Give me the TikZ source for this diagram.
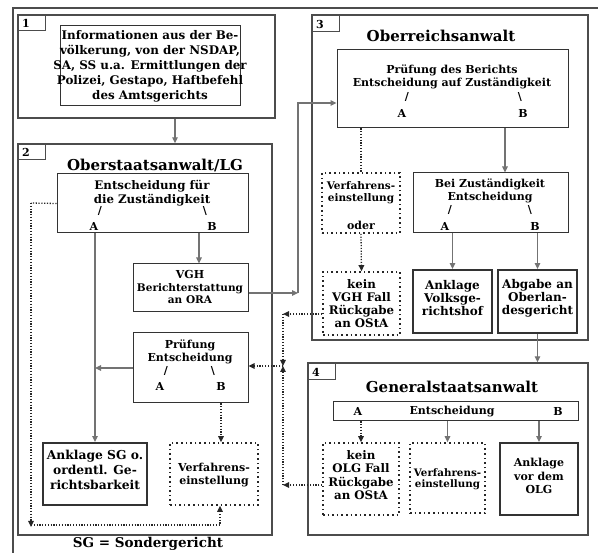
\documentclass[tikz,border=0pt]{standalone}
\usepackage{fontspec}
\setmainfont{DejaVu Serif}
\usetikzlibrary{arrows.meta,fit}
\begin{document}
\begin{tikzpicture}[x=1pt,y=-1pt,
 bx/.style={draw=black!80, line width=1pt, inner sep=0pt},
 thk/.style={draw=black!80, line width=1.9pt, inner sep=0pt},
 sec/.style={draw=black!70, line width=1.4pt, inner sep=0pt},
 nbx/.style={draw=black!70, line width=1pt, inner sep=0pt},
 dbx/.style={draw=black!85, line width=1.6pt, dash pattern=on 1.6pt off 3pt, inner sep=0pt},
 txt/.style={font=\bfseries\fontsize{11}{13.5}\selectfont, align=center, inner sep=0pt},
 sm/.style={font=\bfseries\fontsize{10.5}{12}\selectfont, align=center, inner sep=0pt},
 ttl/.style={font=\bfseries\fontsize{15}{17}\selectfont, inner sep=0pt},
 arr/.style={draw=black!55, line width=1.1pt, -{Triangle[length=6pt,width=5.5pt]}},
 dotl/.style={draw=black!85, line width=1.3pt, dash pattern=on 1.2pt off 1.6pt},
 dotarr/.style={dotl, -{Triangle[length=6pt,width=5.5pt]}},
]
\useasboundingbox (0,0) rectangle (598,553);
\fill[white] (0,0) rectangle (598,553);
% outer frame
\draw[black!70, line width=1.2pt] (13,553) -- (13,8) -- (598,8);

% ---------- section boxes ----------
\node[sec, fit={(18,15) (275,118)}] (sec1) {};
\node[nbx, fit={(18,15) (45,31)}] (n1) {};
\node[txt, anchor=west] (n1t) at (22,23) {1};
\node[sec, fit={(18,144) (272,535)}] (sec2) {};
\node[nbx, fit={(18,144) (45,160)}] (n2) {};
\node[txt, anchor=west] (n2t) at (22,152) {2};
\node[sec, fit={(312,15) (588,340)}] (sec3) {};
\node[nbx, fit={(312,15) (339,32)}] (n3) {};
\node[txt, anchor=west] (n3t) at (316,24) {3};
\node[sec, fit={(308,363) (588,535)}] (sec4) {};
\node[nbx, fit={(308,363) (335,380)}] (n4) {};
\node[txt, anchor=west] (n4t) at (312,372) {4};

% ---------- section 1 ----------
\node[bx, fit={(60,26) (240,106)}] (info) {};
\node[txt, font=\bfseries\fontsize{11.9}{15}\selectfont] (infot) at (150,66) {Informationen aus der Be-\\völkerung, von der NSDAP,\\SA, SS u.a. Ermittlungen der\\Polizei, Gestapo, Haftbefehl\\des Amtsgerichts};

% ---------- section 2 ----------
\node[ttl] (t2) at (155,166) {Oberstaatsanwalt/LG};
\node[bx, fit={(57,174) (248,233)}] (ent2) {};
\node[txt, font=\bfseries\fontsize{11.8}{14}\selectfont] (ent2t) at (152,193) {Entscheidung für\\die Zuständigkeit};
\node[txt] (ent2s1) at (100,211) {/};
\node[txt] (ent2s2) at (205,211) {\textbackslash};
\node[txt] (ent2a) at (94,226) {A};
\node[txt] (ent2b) at (212,226) {B};

\node[bx, fit={(133,264) (248,312)}] (vgh) {};
\node[txt] (vght) at (190,274) {VGH};
\node[sm] (vght2) at (190,294) {Berichterstattung\\an ORA};

\node[bx, fit={(133,333) (248,403)}] (pr2) {};
\node[txt] (pr2t) at (190,352) {Prüfung\\Entscheidung};
\node[txt] (pr2s1) at (166,371) {/};
\node[txt] (pr2s2) at (213,371) {\textbackslash};
\node[txt] (pr2a) at (160,386) {A};
\node[txt] (pr2b) at (221,386) {B};

\node[thk, fit={(43,443) (147,505)}] (anksg) {};
\node[txt, font=\bfseries\fontsize{12.3}{15}\selectfont] (anksgt) at (95,470) {Anklage SG o.\\ordentl. Ge-\\richtsbarkeit};
\node[dbx, fit={(170,443) (258,505)}] (verf2) {};
\node[txt] (verf2t) at (214,475) {Verfahrens-\\einstellung};

\node[txt, font=\bfseries\fontsize{13.5}{15}\selectfont] (fn) at (148,544) {SG = Sondergericht};

% ---------- section 3 ----------
\node[ttl] (t3) at (441,36) {Oberreichsanwalt};
\node[bx, fit={(337,50) (568,128)}] (pr3) {};
\node[txt] (pr3t) at (452,77) {Prüfung des Berichts\\Entscheidung auf Zuständigkeit};
\node[txt] (pr3s1) at (407,97) {/};
\node[txt] (pr3s2) at (520,97) {\textbackslash};
\node[txt] (pr3a) at (402,113) {A};
\node[txt] (pr3b) at (523,113) {B};

\node[dbx, fit={(322,173) (400,233)}] (verf3) {};
\node[sm] (verf3t) at (361,193) {Verfahrens-\\einstellung};
\node[txt] (verf3o) at (361,225) {oder};

\node[bx, fit={(413,173) (568,233)}] (bei) {};
\node[txt] (beit) at (490,191) {Bei Zuständigkeit\\Entscheidung};
\node[txt] (beis1) at (450,210) {/};
\node[txt] (beis2) at (530,210) {\textbackslash};
\node[txt] (beia) at (445,226) {A};
\node[txt] (beib) at (535,226) {B};

\node[dbx, fit={(323,272) (400,335)}] (kvgh) {};
\node[txt, font=\bfseries\fontsize{11.8}{13}\selectfont] (kvght) at (361.5,304) {kein\\VGH Fall\\Rückgabe\\an OStA};
\node[thk, fit={(413,270) (492,333)}] (ankvgh) {};
\node[txt, font=\bfseries\fontsize{12}{13}\selectfont] (ankvght) at (452.5,298) {Anklage\\Volksge-\\richtshof};
\node[thk, fit={(498,270) (577,333)}] (abg) {};
\node[txt, font=\bfseries\fontsize{12}{13}\selectfont] (abgt) at (537.5,298) {Abgabe an\\Oberlan-\\desgericht};

% ---------- section 4 ----------
\node[ttl] (t4) at (452,387) {Generalstaatsanwalt};
\node[bx, fit={(333,402) (578,421)}] (ent4) {};
\node[txt] (ent4a) at (358,411.5) {A};
\node[txt] (ent4t) at (452,411.5) {Entscheidung};
\node[txt] (ent4b) at (558,411.5) {B};

\node[dbx, fit={(323,443) (399,515)}] (kolg) {};
\node[txt, font=\bfseries\fontsize{11.8}{13.5}\selectfont] (kolgt) at (361,475) {kein\\OLG Fall\\Rückgabe\\an OStA};
\node[dbx, fit={(410,443) (485,513)}] (verf4) {};
\node[sm, font=\bfseries\fontsize{10.3}{11}\selectfont] (verf4t) at (447.5,479) {Verfahrens-\\einstellung};
\node[thk, fit={(500,443) (578,515)}] (ankolg) {};
\node[txt] (ankolgt) at (539,476) {Anklage\\vor dem\\OLG};

% ---------- helper coordinates ----------
\coordinate (xa1) at (175,0);
\coordinate (xb) at (199,0);
\coordinate (xd) at (221,0);
\coordinate (xe) at (505,0);
\coordinate (c1) at (298,293);
\coordinate (c2) at (298,103);
\coordinate (l1) at (31,203);
\coordinate (l2) at (31,525);
\coordinate (l3) at (220,525);
\coordinate (r1) at (283,314);
\coordinate (r2) at (283,485);
\coordinate (r3) at (283,366);

% ---------- connectors ----------
\draw[arr] (xa1 |- sec1.south) -- (xa1 |- sec2.north);
\draw[arr] (anksg.north |- ent2.south) -- (anksg.north);
\draw[arr] (xb |- ent2.south) -- (xb |- vgh.north);
\draw[arr] (pr2.west) -- (pr2.west -| anksg.north);
\draw[dotarr] (xd |- pr2.south) -- (xd |- verf2.north);
\draw[dotl] (ent2.west) -- (l1);
\draw[dotarr] (l1) -- ([yshift=-2pt]l2);
\draw[dotarr] (l2) -- (l3) -- (l3 |- verf2.south);

\draw[arr] (c1 -| vgh.east) -- (c1);
\draw[arr] (c1) -- (c2) -- (c2 -| pr3.west);

\draw[dotl] (verf3.north |- pr3.south) -- (verf3.north);
\draw[dotarr] (verf3.south) -- (kvgh.north);
\draw[arr] (xe |- pr3.south) -- (xe |- bei.north);
\draw[arr] (ankvgh.north |- bei.south) -- (ankvgh.north);
\draw[arr] (abg.north |- bei.south) -- (abg.north);
\draw[arr] (abg.south) -- (abg.south |- sec4.north);

\draw[dotarr] (kolg.north |- ent4.south) -- (kolg.north);
\draw[arr] (verf4.north |- ent4.south) -- (verf4.north);
\draw[arr] (ankolg.north |- ent4.south) -- (ankolg.north);

\draw[dotarr] (r1 -| kvgh.west) -- (r1);
\draw[dotarr] (r1) -- (r3);
\draw[dotarr] (r2 -| kolg.west) -- (r2);
\draw[dotarr] (r2) -- (r3);
\draw[dotarr] (r3) -- (r3 -| pr2.east);
\end{tikzpicture}
\end{document}
